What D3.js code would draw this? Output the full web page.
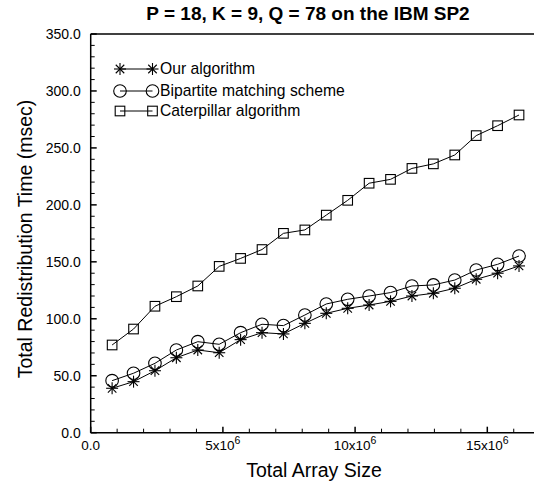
<!DOCTYPE html>
<html>
<head>
<meta charset="utf-8">
<script src="https://cdn.jsdelivr.net/npm/d3@7"></script>
<style>
  body { margin: 0; background: #fff; }
  svg { display: block; font-family: "Liberation Sans", Arial, sans-serif; }
</style>
</head>
<body>
<svg id="chart" width="534" height="486"></svg>
<script>
// Array sizes (millions of elements) for each measurement
const arraySizes = [0.81, 1.62, 2.43, 3.24, 4.05, 4.86, 5.67, 6.48, 7.29, 8.10,
                    8.91, 9.72, 10.53, 11.34, 12.15, 12.96, 13.77, 14.58, 15.39, 16.20];

// Total redistribution time (msec) per algorithm
const ourAlgorithm = [39, 44.8, 54.4, 65.8, 72.6, 70.2, 81.7, 87.8, 86.7, 96,
                      104.8, 109.2, 112.1, 115.3, 120, 122.4, 126.8, 134.7, 140, 146.4];
const bipartite = [45.7, 52.2, 60.9, 72.6, 79.9, 77.6, 87.8, 95.2, 94, 103.3,
                   113, 117.1, 120, 123, 128.8, 129.7, 134, 142.8, 147.8, 155.1];
const caterpillar = [77, 91, 111, 119.4, 128.8, 146, 153, 160.8, 175, 178,
                     191, 204, 219, 222.4, 232, 236, 243.8, 260.8, 269.5, 278.9];

const seriesNames = ["Our algorithm", "Bipartite matching scheme", "Caterpillar algorithm"];
const seriesSymbols = ["star", "circle", "square"];

const yTicks = [0, 50, 100, 150, 200, 250, 300, 350];
const xTicks = [0, 5, 10, 15];

const svg = d3.select("#chart");
const plotLeft = 90.7, plotRight = 534, plotTop = 34, plotBottom = 432.7;

const x = d3.scaleLinear().domain([0, (plotRight - plotLeft) / 26.44]).range([plotLeft, plotRight]);
const y = d3.scaleLinear().domain([0, 350]).range([plotBottom, plotTop]);

// Frame top edge
svg.append("line").attr("x1", plotLeft).attr("x2", plotRight).attr("y1", plotTop).attr("y2", plotTop)
  .attr("stroke", "#000").attr("stroke-width", 1.5);

// Y axis: ticks point into the plot
const yAxis = svg.append("g").attr("transform", `translate(${plotLeft},0)`);
yAxis.append("line").attr("x1", 0).attr("x2", 0).attr("y1", plotTop).attr("y2", plotBottom)
  .attr("stroke", "#000").attr("stroke-width", 1.5);
yAxis.selectAll("line.minor").data(d3.range(0, 351, 10))
  .join("line").attr("class", "minor")
  .attr("x1", 0).attr("x2", d => d % 50 === 0 ? 6 : 4)
  .attr("y1", d => y(d)).attr("y2", d => y(d))
  .attr("stroke", "#000").attr("stroke-width", d => d % 50 === 0 ? 1.5 : 1);
yAxis.selectAll("text").data(yTicks).join("text")
  .attr("x", -10).attr("y", d => y(d)).attr("dy", "0.35em")
  .attr("text-anchor", "end").attr("font-size", 14).text(d => d.toFixed(1));

// X axis: ticks point into the plot
const xAxis = svg.append("g");
xAxis.append("line").attr("x1", plotLeft).attr("x2", plotRight).attr("y1", plotBottom).attr("y2", plotBottom)
  .attr("stroke", "#000").attr("stroke-width", 1.5);
xAxis.selectAll("line.tick").data(d3.range(0, 17, 1))
  .join("line").attr("class", "tick")
  .attr("x1", d => x(d)).attr("x2", d => x(d))
  .attr("y1", plotBottom).attr("y2", d => d % 5 === 0 ? plotBottom - 6 : plotBottom - 4)
  .attr("stroke", "#000").attr("stroke-width", d => d % 5 === 0 ? 1.5 : 1);
xAxis.selectAll("text").data(xTicks).join("text")
  .attr("x", d => x(d)).attr("y", plotBottom + 17.5)
  .attr("text-anchor", "middle").attr("font-size", 13.5)
  .each(function(d) {
    const t = d3.select(this);
    if (d === 0) { t.text("0.0"); return; }
    t.append("tspan").text(`${d}x10`);
    t.append("tspan").attr("dy", -6).attr("font-size", 10.5).text("6");
  });

// Titles
svg.append("text").attr("x", 308).attr("y", 20).attr("text-anchor", "middle")
  .attr("font-size", 19).attr("font-weight", "bold")
  .text("P = 18, K = 9, Q = 78 on the IBM SP2");
svg.append("text").attr("x", 314).attr("y", 477).attr("text-anchor", "middle")
  .attr("font-size", 19.5).text("Total Array Size");
svg.append("text").attr("transform", "translate(32,239) rotate(-90)")
  .attr("text-anchor", "middle").attr("font-size", 19.5)
  .text("Total Redistribution Time (msec)");

// Marker drawing
function drawSymbol(g, kind, cx, cy) {
  if (kind === "star") {
    const r = 6;
    for (let a = 0; a < 4; a++) {
      const ang = a * Math.PI / 4;
      g.append("line")
        .attr("x1", cx - r * Math.cos(ang)).attr("y1", cy - r * Math.sin(ang))
        .attr("x2", cx + r * Math.cos(ang)).attr("y2", cy + r * Math.sin(ang))
        .attr("stroke", "#000").attr("stroke-width", 1.1);
    }
  } else if (kind === "circle") {
    g.append("circle").attr("cx", cx).attr("cy", cy).attr("r", 6.3)
      .attr("fill", "none").attr("stroke", "#000").attr("stroke-width", 1.1);
  } else {
    g.append("rect").attr("x", cx - 4.8).attr("y", cy - 4.8).attr("width", 9.6).attr("height", 9.6)
      .attr("fill", "none").attr("stroke", "#000").attr("stroke-width", 1.1);
  }
}

const seriesData = [ourAlgorithm, bipartite, caterpillar];
const line = d3.line().x(d => x(d[0])).y(d => y(d[1]));

seriesData.forEach((vals, i) => {
  const pts = arraySizes.map((s, j) => [s, vals[j]]);
  const g = svg.append("g");
  g.append("path").attr("d", line(pts)).attr("fill", "none")
    .attr("stroke", "#000").attr("stroke-width", 1);
  pts.forEach(p => drawSymbol(g, seriesSymbols[i], x(p[0]), y(p[1])));
});

// Legend
const legendY = [69, 91, 111];
seriesNames.forEach((name, i) => {
  const g = svg.append("g");
  const ly = legendY[i];
  g.append("line").attr("x1", 120).attr("x2", 152.5).attr("y1", ly).attr("y2", ly)
    .attr("stroke", "#000").attr("stroke-width", 1);
  drawSymbol(g, seriesSymbols[i], 120, ly);
  drawSymbol(g, seriesSymbols[i], 152.5, ly);
  g.append("text").attr("x", 160).attr("y", ly).attr("dy", "0.35em")
    .attr("font-size", 15.7).text(name);
});
</script>
</body>
</html>
